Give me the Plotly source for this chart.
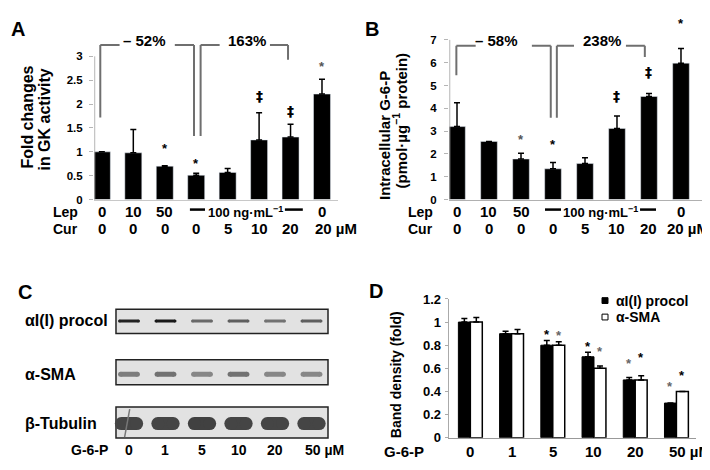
import plotly.graph_objects as go

W, H = 710, 470
def PX(p): return p / W
def PY(p): return 1 - p / H

FONT = "Liberation Sans, Arial, sans-serif"

# ---------------- data ----------------
treat_idx = list(range(8))
lep_labels = ["0", "10", "50", "", "", "", "", "0"]
cur_labels = ["0", "0", "0", "0", "5", "10", "20", "20 µM"]

gk_fold = [1.00, 0.98, 0.70, 0.51, 0.57, 1.25, 1.31, 2.21]
gk_err = [0.00, 0.49, 0.01, 0.04, 0.08, 0.57, 0.27, 0.31]
gk_marks = ["", "", "*", "*", "", "‡", "‡", "*"]
gk_mark_y = [None, None, 1.16, 0.84, None, 2.16, 1.86, 2.87]

g6p_level = [3.20, 2.55, 1.78, 1.35, 1.58, 3.12, 4.52, 5.98]
g6p_err = [1.05, 0.00, 0.25, 0.28, 0.25, 0.54, 0.13, 0.64]
g6p_marks = ["", "", "*", "*", "", "‡", "‡", "*"]
g6p_mark_y = [None, None, 2.82, 2.60, None, 4.53, 5.59, 7.88]

dose_idx = list(range(6))
dose_labels = ["0", "1", "5", "10", "20", "50 µM"]
procol_density = [1.00, 0.90, 0.80, 0.70, 0.50, 0.30]
procol_err = [0.03, 0.02, 0.04, 0.04, 0.02, 0.00]
sma_density = [1.00, 0.90, 0.80, 0.60, 0.50, 0.40]
sma_err = [0.04, 0.035, 0.03, 0.02, 0.035, 0.00]
procol_star_y = [None, None, 0.93, 0.82, 0.675, 0.475]
sma_star_y = [None, None, 0.92, 0.78, 0.725, 0.57]

blot_rows = ["αI(I) procol", "α-SMA", "β-Tubulin"]
procol_band = [0.95, 1.00, 0.60, 0.65, 0.55, 0.65]
sma_band = [0.50, 0.55, 0.45, 0.55, 0.45, 0.45]
tubulin_band = [0.78, 0.78, 0.80, 0.78, 0.78, 0.78]

# ---------------- figure ----------------
fig = go.Figure()
annotations = []
shapes = []

def ann(text, x, y, xref="paper", yref="paper", size=14, xanchor="center",
        yanchor="middle", color="black", textangle=0, xshift=0, yshift=0, family=FONT):
    annotations.append(dict(text=text, x=x, y=y, xref=xref, yref=yref,
                            showarrow=False, xanchor=xanchor, yanchor=yanchor,
                            textangle=textangle, xshift=xshift, yshift=yshift,
                            font=dict(family=family, size=size, color=color, weight="bold")))

def seg(x0, y0, x1, y1, xref, yref, color="#6f6f6f", width=2):
    shapes.append(dict(type="line", x0=x0, y0=y0, x1=x1, y1=y1, xref=xref, yref=yref,
                       line=dict(color=color, width=width)))

# Panel A bars
fig.add_trace(go.Bar(x=treat_idx, y=gk_fold, width=0.54, marker_color="black",
                     error_y=dict(type="data", symmetric=False, array=gk_err,
                                  arrayminus=[0] * 8, color="black", thickness=1.5, width=3),
                     xaxis="x", yaxis="y", showlegend=False))
# Panel B bars
fig.add_trace(go.Bar(x=treat_idx, y=g6p_level, width=0.52, marker_color="black",
                     error_y=dict(type="data", symmetric=False, array=g6p_err,
                                  arrayminus=[0] * 8, color="black", thickness=1.5, width=3),
                     xaxis="x2", yaxis="y2", showlegend=False))
# Panel D bars
fig.add_trace(go.Bar(x=dose_idx, y=procol_density, width=0.29, offset=-0.29,
                     marker=dict(color="black", line=dict(color="black", width=1)),
                     error_y=dict(type="data", symmetric=False, array=procol_err,
                                  arrayminus=[0] * 6, color="black", thickness=1.5, width=3),
                     xaxis="x4", yaxis="y4", showlegend=False))
fig.add_trace(go.Bar(x=dose_idx, y=sma_density, width=0.29, offset=0.0,
                     marker=dict(color="white", line=dict(color="black", width=1.5)),
                     error_y=dict(type="data", symmetric=False, array=sma_err,
                                  arrayminus=[0] * 6, color="black", thickness=1.5, width=3),
                     xaxis="x4", yaxis="y4", showlegend=False))

# Panel C blot bands
def gray(v):
    g = int(max(0, min(255, 225 - 200 * v)))
    return f"rgb({g},{g},{g})"

row_y = [316, 371, 422]
row_box = [(304, 329), (356, 382), (405, 437)]
band_specs = [(procol_band, 3, 0.52), (sma_band, 5, 0.46), (tubulin_band, 13, 0.42)]
for r, (vals, thick, wid) in enumerate(band_specs):
    for i, v in zip(dose_idx, vals):
        fig.add_trace(go.Scatter(x=[i - wid / 2, i + wid / 2], y=[row_y[r], row_y[r]],
                                 mode="lines+markers",
                                 line=dict(color=gray(v), width=thick),
                                 marker=dict(color=gray(v), size=thick, line=dict(width=0)),
                                 xaxis="x3", yaxis="y3", hoverinfo="skip", showlegend=False))
for (y0, y1) in row_box:
    shapes.append(dict(type="rect", xref="x3", yref="y3", x0=-0.356, x1=5.452, y0=y0, y1=y1,
                       fillcolor="#e2e2e2", line=dict(color="#222222", width=1.5), layer="below"))
# thin streak in first tubulin lane
seg(-0.12, 436, 0.02, 407, "x3", "y3", color="#777777", width=1.5)

# ---------- panel A annotations ----------
ann("A", PX(1), PY(14), size=20, xanchor="left")
ann("Fold changes", PX(20), PY(106), size=16, textangle=-90)
ann("in GK activity", PX(37), PY(108), size=16, textangle=-90)
ann("Lep", PX(57), PY(204), size=14)
ann("Cur", PX(57), PY(221), size=14)
for i in treat_idx:
    if lep_labels[i]:
        ann(lep_labels[i], i, PY(203), xref="x", size=15)
    if i < 7:
        ann(cur_labels[i], i, PY(221), xref="x", size=15)
    else:
        ann(cur_labels[i], i, PY(221), xref="x", size=15, xanchor="left", xshift=-9)
    if gk_marks[i]:
        star = gk_marks[i] == "*"
        ann(gk_marks[i], i, gk_mark_y[i], xref="x", yref="y", size=13 if star else 14,
            color="#555555" if i == 7 else "black", yshift=-4 if star else 0,
            family=FONT if star else "DejaVu Sans")
ann("100 ng·mL<sup>−1</sup>", 4.566, PY(203), xref="x", size=13)
seg(3.28 - 0.48, PY(201), 3.28, PY(201), "x", "paper", color="black", width=2.5)
seg(5.82, PY(201), 6.39, PY(201), "x", "paper", color="black", width=2.5)

# bracket A
tA = 3.237
for (x0, y0, x1, y1) in [(-0.05, 1.72, -0.05, tA), (-0.05, tA, 0.563, tA), (2.32, tA, 2.93, tA),
                         (2.93, tA, 2.93, 1.33), (3.14, 1.33, 3.14, tA), (3.14, tA, 3.745, tA),
                         (5.345, tA, 5.92, tA), (5.92, tA, 5.92, 2.93)]:
    seg(x0, y0, x1, y1, "x", "y")
ann("– 52%", 1.352, 3.34, xref="x", yref="y", size=15)
ann("163%", 4.6, 3.34, xref="x", yref="y", size=15)
seg(0.003, 0, 0.003, 3, "x domain", "y", color="#b5b5b5", width=1)

# ---------- panel B annotations ----------
ann("B", PX(355), PY(14), size=20, xanchor="left")
ann("Intracellular G-6-P", PX(376), PY(125), size=15, textangle=-90)
ann("(pmol·µg<sup>−1</sup> protein)", PX(392), PY(109), size=15, textangle=-90)
ann("Lep", PX(412), PY(204), size=14)
ann("Cur", PX(412), PY(221), size=14)
for i in treat_idx:
    if lep_labels[i]:
        ann(lep_labels[i], i, PY(203), xref="x2", size=15)
    if i < 7:
        ann(cur_labels[i], i, PY(221), xref="x2", size=15)
    else:
        ann(cur_labels[i], i, PY(221), xref="x2", size=15, xanchor="left", xshift=-16)
    if g6p_marks[i]:
        star = g6p_marks[i] == "*"
        ann(g6p_marks[i], i, g6p_mark_y[i], xref="x2", yref="y2", size=13 if star else 14,
            color="#555555" if i == 2 else "black", yshift=-4 if star else 0,
            family=FONT if star else "DejaVu Sans")
ann("100 ng·mL<sup>−1</sup>", 4.47, PY(203), xref="x2", size=13)
seg(2.75, PY(201), 3.25, PY(201), "x2", "paper", color="black", width=2.5)
seg(5.72, PY(201), 6.22, PY(201), "x2", "paper", color="black", width=2.5)

tB = 6.746
for (x0, y0, x1, y1) in [(-0.02, 5.45, -0.02, tB), (-0.02, tB, 0.584, tB), (2.34, tB, 2.93, tB),
                         (2.93, tB, 2.93, 3.59), (3.12, 3.59, 3.12, tB), (3.12, tB, 3.656, tB),
                         (5.28, tB, 5.87, tB), (5.87, tB, 5.87, 6.25)]:
    seg(x0, y0, x1, y1, "x2", "y2")
ann("– 58%", 1.25, 6.99, xref="x2", yref="y2", size=15)
ann("238%", 4.53, 6.99, xref="x2", yref="y2", size=15)
seg(0.003, 0, 0.003, 7, "x2 domain", "y2", color="#b5b5b5", width=1)

# ---------- panel C annotations ----------
ann("C", PX(8), PY(286), size=20, xanchor="left")
for r, name in enumerate(blot_rows):
    ann(name, PX(15), PY(row_y[r]), size=16, xanchor="left")
ann("G-6-P", PX(81), PY(449), size=14)
for i in dose_idx:
    if i < 5:
        ann(dose_labels[i], i, PY(449), xref="x3", size=14)
    else:
        ann(dose_labels[i], i, PY(449), xref="x3", size=14, xanchor="left", xshift=-9)

# ---------- panel D annotations ----------
ann("D", PX(359), PY(285), size=20, xanchor="left")
ann("Band density (fold)", PX(388), PY(372), size=14, textangle=-90)
ann("G-6-P", PX(396), PY(451), size=15)
for i in dose_idx:
    if i < 5:
        ann(dose_labels[i], i, PY(451), xref="x4", size=15)
    else:
        ann(dose_labels[i], i, PY(451), xref="x4", size=15, xanchor="left", xshift=-9)
    if procol_star_y[i] is not None:
        ann("*", i - 0.145, procol_star_y[i], xref="x4", yref="y4", size=13,
            color="#666666" if i in (4, 5) else "black", yshift=-4)
    if sma_star_y[i] is not None:
        ann("*", i + 0.145, sma_star_y[i], xref="x4", yref="y4", size=13,
            color="#666666" if i in (2, 3) else "black", yshift=-4)
# legend
shapes.append(dict(type="rect", xref="paper", yref="paper", x0=PX(594), x1=PX(600),
                   y0=PY(298), y1=PY(292), fillcolor="black", line=dict(color="black", width=1)))
shapes.append(dict(type="rect", xref="paper", yref="paper", x0=PX(594), x1=PX(600),
                   y0=PY(315), y1=PY(309), fillcolor="white", line=dict(color="black", width=1)))
ann("αI(I) procol", PX(606), PY(295), size=14, xanchor="left")
ann("α-SMA", PX(606), PY(312), size=14, xanchor="left")

# ---------- axes ----------
tickfont = dict(family=FONT, size=11.5, color="black", weight="bold")
fig.update_layout(
    width=W, height=H, margin=dict(l=0, r=0, t=0, b=0),
    paper_bgcolor="white", plot_bgcolor="white", barmode="overlay",
    font=dict(family=FONT, weight="bold"),
    showlegend=False,
    xaxis=dict(domain=[PX(86), PX(330)], range=[-0.25, 7.509], showgrid=False, zeroline=False,
               showticklabels=False, ticks="", showline=True, linecolor="#c8c8c8", linewidth=1,
               anchor="y"),
    yaxis=dict(domain=[PY(190.7), PY(5)], range=[0, 3.764], showgrid=False, zeroline=False,
               showline=False, tickvals=[0, 0.5, 1, 1.5, 2, 2.5, 3],
               ticktext=["0", "0.5", "1", "1.5", "2", "2.5", "3"], ticks="outside",
               ticklen=4, tickcolor="#b5b5b5", tickfont=tickfont, ticklabelstandoff=4,
               anchor="x"),
    xaxis2=dict(domain=[PX(441), PX(700)], range=[-0.25, 7.844], showgrid=False, zeroline=False,
                showticklabels=False, ticks="", showline=True, linecolor="#b0b0b0", linewidth=1,
                anchor="y2"),
    yaxis2=dict(domain=[PY(190.7), PY(0)], range=[0, 8.09], showgrid=False, zeroline=False,
                showline=False, tickvals=list(range(8)), ticktext=[str(v) for v in range(8)],
                ticks="outside", ticklen=4, tickcolor="#b5b5b5", tickfont=tickfont,
                ticklabelstandoff=5, anchor="x2"),
    xaxis3=dict(domain=[PX(100), PX(330)], range=[-0.575, 5.726], visible=False, anchor="y3"),
    yaxis3=dict(domain=[PY(445), PY(295)], range=[445, 295], visible=False, anchor="x3"),
    xaxis4=dict(domain=[PX(440.7), PX(688)], range=[-0.525, 5.475], showgrid=False, zeroline=False,
                showticklabels=False, ticks="", showline=True, linecolor="#999999", linewidth=1,
                anchor="y4"),
    yaxis4=dict(domain=[PY(436.7), PY(293.3)], range=[0, 1.2], showgrid=False, zeroline=False,
                showline=True, linecolor="#aaaaaa", linewidth=1,
                tickvals=[0, 0.2, 0.4, 0.6, 0.8, 1.0, 1.2],
                ticktext=["0", "0.2", "0.4", "0.6", "0.8", "1", "1.2"], ticks="outside",
                ticklen=3, tickcolor="#aaaaaa", tickfont=dict(family=FONT, size=13, color="black", weight="bold"),
                ticklabelstandoff=1, anchor="x4"),
    annotations=annotations,
    shapes=shapes,
)

fig.write_html("out.html")
